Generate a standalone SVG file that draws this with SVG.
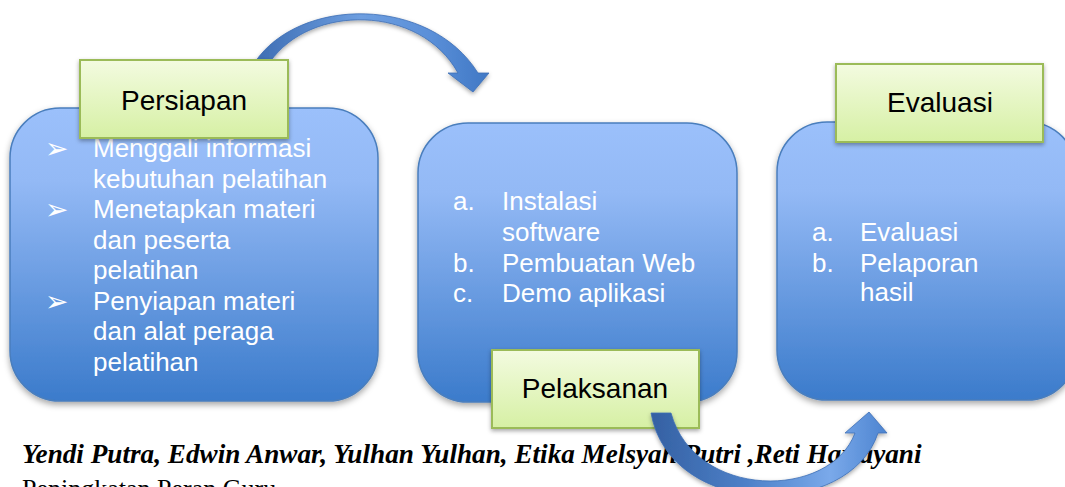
<svg xmlns="http://www.w3.org/2000/svg" width="1065" height="487" viewBox="0 0 1065 487">
<defs>
<linearGradient id="boxGrad" x1="0" y1="0" x2="0" y2="1">
<stop offset="0" stop-color="#9bc0fb"/>
<stop offset="0.25" stop-color="#93b9f5"/>
<stop offset="1" stop-color="#3b7bcb"/>
</linearGradient>
<linearGradient id="labelGrad" x1="0" y1="0" x2="0" y2="1">
<stop offset="0" stop-color="#f3fbe0"/>
<stop offset="1" stop-color="#d6f0a4"/>
</linearGradient>
<linearGradient id="topArrowGrad" x1="255" y1="0" x2="490" y2="0" gradientUnits="userSpaceOnUse">
<stop offset="0" stop-color="#3d6db3"/>
<stop offset="0.45" stop-color="#6d9ee0"/>
<stop offset="0.75" stop-color="#5a8fd8"/>
<stop offset="1" stop-color="#3f77c4"/>
</linearGradient>
<linearGradient id="botArrowGrad" x1="650" y1="0" x2="890" y2="0" gradientUnits="userSpaceOnUse">
<stop offset="0" stop-color="#3460a2"/>
<stop offset="0.4" stop-color="#4d80c8"/>
<stop offset="0.75" stop-color="#7aa9ea"/>
<stop offset="1" stop-color="#4a82cf"/>
</linearGradient>
<filter id="shadow" x="-10%" y="-10%" width="120%" height="125%">
<feDropShadow dx="0" dy="3" stdDeviation="3" flood-color="#000" flood-opacity="0.35"/>
</filter>
<filter id="shadowSmall" x="-10%" y="-10%" width="120%" height="130%">
<feDropShadow dx="0" dy="2" stdDeviation="2" flood-color="#000" flood-opacity="0.35"/>
</filter>
</defs>
<style>
.box{fill:url(#boxGrad);stroke:#4a7ebd;stroke-width:1.5;filter:url(#shadow)}
.label{fill:url(#labelGrad);stroke:#9bbb59;stroke-width:2;filter:url(#shadowSmall)}
.ltxt{font-family:"Liberation Sans",Arial,sans-serif;font-size:28px;fill:#000;text-anchor:middle}
.btxt{font-family:"Liberation Sans",Arial,sans-serif;font-size:26px;fill:#fff}
.bul{font-family:"DejaVu Sans",sans-serif;font-size:28px;fill:#fff}
.auth{font-family:"Liberation Serif","Times New Roman",serif;font-size:27.2px;font-weight:bold;font-style:italic;fill:#000}
.sub{font-family:"Liberation Serif","Times New Roman",serif;font-size:26px;fill:#000}
</style>
<rect width="1065" height="487" fill="#fff"/>
<g id="footer">
<text class="auth" x="22" y="463">Yendi Putra, Edwin Anwar, Yulhan Yulhan, Etika Melsyah Putri ,Reti Hartayani</text>
<text class="sub" x="22" y="497">Peningkatan Peran Guru</text>
</g>
<g id="connectors-back">
<path id="arrow-top" d="M 255 62 C 300 -4, 430 -4, 478 73 L 489 73 L 473 92 L 448 73 L 458 73 C 420 4, 310 4, 270 62 Z" fill="url(#topArrowGrad)" stroke="#3d6fb5" stroke-width="0.8" filter="url(#shadowSmall)"/>
</g>
<g id="node-persiapan">
<rect class="box" x="10" y="108" width="368" height="293" rx="50" ry="50"/>
<text class="bul" x="45" y="158">➢</text>
<text class="bul" x="45" y="219">➢</text>
<text class="bul" x="45" y="311">➢</text>
<text class="btxt" x="93" y="157">Menggali informasi</text>
<text class="btxt" x="93" y="187.5">kebutuhan pelatihan</text>
<text class="btxt" x="93" y="218">Menetapkan materi</text>
<text class="btxt" x="93" y="248.5">dan peserta</text>
<text class="btxt" x="93" y="279">pelatihan</text>
<text class="btxt" x="93" y="309.5">Penyiapan materi</text>
<text class="btxt" x="93" y="340">dan alat peraga</text>
<text class="btxt" x="93" y="370.5">pelatihan</text>
<rect class="label" x="80" y="60" width="208" height="78"/>
<text class="ltxt" x="184" y="110">Persiapan</text>
</g>
<g id="node-pelaksanan">
<rect class="box" x="418" y="123" width="319" height="279" rx="50" ry="50"/>
<text class="btxt" x="453" y="210">a.</text>
<text class="btxt" x="502" y="210">Instalasi</text>
<text class="btxt" x="502" y="241">software</text>
<text class="btxt" x="453" y="272">b.</text>
<text class="btxt" x="502" y="272">Pembuatan Web</text>
<text class="btxt" x="453" y="302">c.</text>
<text class="btxt" x="502" y="302">Demo aplikasi</text>
<rect class="label" x="492" y="350" width="207" height="78"/>
<text class="ltxt" x="595" y="398">Pelaksanan</text>
</g>
<g id="node-evaluasi">
<rect class="box" x="777" y="122" width="300" height="278" rx="50" ry="50"/>
<text class="btxt" x="812" y="241">a.</text>
<text class="btxt" x="860" y="241">Evaluasi</text>
<text class="btxt" x="812" y="272">b.</text>
<text class="btxt" x="860" y="272">Pelaporan</text>
<text class="btxt" x="860" y="301">hasil</text>
<rect class="label" x="836" y="64" width="207" height="78"/>
<text class="ltxt" x="940" y="112">Evaluasi</text>
</g>
<g id="connectors">
<path id="arrow-bottom" d="M 651 413 C 670 520, 850 520, 878 433 L 887 433 L 869 412 L 845 433 L 855 433 C 830 500, 695 500, 671 413 Z" fill="url(#botArrowGrad)" stroke="#3d6fb5" stroke-width="0.8" filter="url(#shadowSmall)"/>
</g>
</svg>
